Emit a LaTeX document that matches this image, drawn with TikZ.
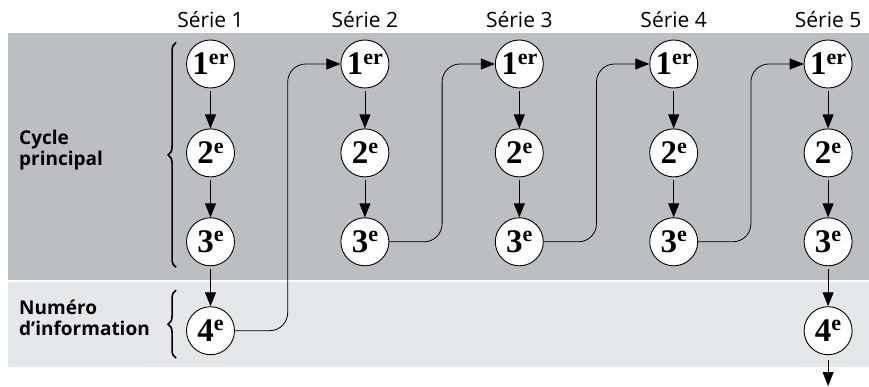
\documentclass[tikz,border=0pt]{standalone}
\usepackage{fontspec}
\usepackage{tikz}
\usetikzlibrary{arrows.meta, positioning, calc, decorations.pathreplacing}
\newfontfamily\labelfont{Open Sans}
\newfontfamily\numfont{Liberation Serif}
\definecolor{bandgray}{RGB}{188, 190, 193}
\definecolor{palegray}{RGB}{230, 231, 233}
\newcommand{\ordnum}[2]{{\fontsize{33}{33}\selectfont #1}\raisebox{10.8pt}{\fontsize{22}{22}\selectfont #2}}

\begin{document}
\begin{tikzpicture}[
    x=1pt, y=1pt,
    node distance=40pt and 105.5pt,
    issue/.style={circle, draw, line width=0.9pt, fill=white, minimum size=48pt, inner sep=0pt, font=\numfont\bfseries},
    heading/.style={inner sep=0pt, font=\labelfont\fontsize{21}{21}\selectfont},
    part/.style={anchor=west, align=left, inner sep=0pt, font=\labelfont\bfseries\fontsize{19}{21.5}\selectfont},
    arrow/.style={-{Triangle[length=14pt, width=11pt]}, line width=0.8pt, shorten <=3pt},
    link/.style={-{Triangle[length=14pt, width=11pt]}, line width=0.8pt, rounded corners=18pt},
    bracket/.style={decorate, decoration={brace, amplitude=8pt}, line width=1.6pt}
]
    \useasboundingbox (0,0) rectangle (869,386);
    % bands
    \fill[bandgray] (8,106) rectangle (869,353);
    \fill[palegray] (8,19) rectangle (869,104);

    % series 1
    \node[issue] (s1n1) at (210.5,322) {\ordnum{1}{er}};
    \node[issue, below=of s1n1] (s1n2) {\ordnum{2}{e}};
    \node[issue, below=of s1n2] (s1n3) {\ordnum{3}{e}};
    \node[issue, below=of s1n3] (s1n4) {\ordnum{4}{e}};
    % series 2
    \node[issue, right=of s1n1] (s2n1) {\ordnum{1}{er}};
    \node[issue, below=of s2n1] (s2n2) {\ordnum{2}{e}};
    \node[issue, below=of s2n2] (s2n3) {\ordnum{3}{e}};
    % series 3
    \node[issue, right=of s2n1] (s3n1) {\ordnum{1}{er}};
    \node[issue, below=of s3n1] (s3n2) {\ordnum{2}{e}};
    \node[issue, below=of s3n2] (s3n3) {\ordnum{3}{e}};
    % series 4
    \node[issue, right=of s3n1] (s4n1) {\ordnum{1}{er}};
    \node[issue, below=of s4n1] (s4n2) {\ordnum{2}{e}};
    \node[issue, below=of s4n2] (s4n3) {\ordnum{3}{e}};
    % series 5
    \node[issue, right=of s4n1] (s5n1) {\ordnum{1}{er}};
    \node[issue, below=of s5n1] (s5n2) {\ordnum{2}{e}};
    \node[issue, below=of s5n2] (s5n3) {\ordnum{3}{e}};
    \node[issue, below=of s5n3] (s5n4) {\ordnum{4}{e}};

    \node[heading, above=12pt of s1n1] (h1) {Série 1};
    \node[heading, above=12pt of s2n1] (h2) {Série 2};
    \node[heading, above=12pt of s3n1] (h3) {Série 3};
    \node[heading, above=12pt of s4n1] (h4) {Série 4};
    \node[heading, above=12pt of s5n1] (h5) {Série 5};

    \node[part] (cycle) at (19,236) {Cycle\\principal};
    \node[part] (info) at (19,68) {Numéro\\d’information};

    \draw[bracket] ($(s1n3.west |- s1n3.south)+(-10,-1)$) -- ($(s1n1.west |- s1n1.north)+(-10,-3)$);
    \draw[bracket] ($(s1n4.west |- s1n4.south)+(-10,-3)$) -- ($(s1n4.west |- s1n4.north)+(-10,16)$);

    \draw[arrow] (s1n1) -- (s1n2);
    \draw[arrow] (s1n2) -- (s1n3);
    \draw[arrow] (s1n3) -- (s1n4);
    \draw[arrow] (s2n1) -- (s2n2);
    \draw[arrow] (s2n2) -- (s2n3);
    \draw[arrow] (s3n1) -- (s3n2);
    \draw[arrow] (s3n2) -- (s3n3);
    \draw[arrow] (s4n1) -- (s4n2);
    \draw[arrow] (s4n2) -- (s4n3);
    \draw[arrow] (s5n1) -- (s5n2);
    \draw[arrow] (s5n2) -- (s5n3);
    \draw[arrow] (s5n3) -- (s5n4);

    \coordinate (m12) at ($(s1n1)!0.5!(s2n1)$);
    \coordinate (m23) at ($(s2n1)!0.5!(s3n1)$);
    \coordinate (m34) at ($(s3n1)!0.5!(s4n1)$);
    \coordinate (m45) at ($(s4n1)!0.5!(s5n1)$);
    \draw[link] (s1n4.east) -| (m12) -- (s2n1.west);
    \draw[link] (s2n3.east) -| (m23) -- (s3n1.west);
    \draw[link] (s3n3.east) -| (m34) -- (s4n1.west);
    \draw[link] (s4n3.east) -| (m45) -- (s5n1.west);

    \coordinate (exit) at (s5n4 |- 0,0);
    \draw[arrow, shorten <=5pt] (s5n4) -- (exit);
\end{tikzpicture}
\end{document}
